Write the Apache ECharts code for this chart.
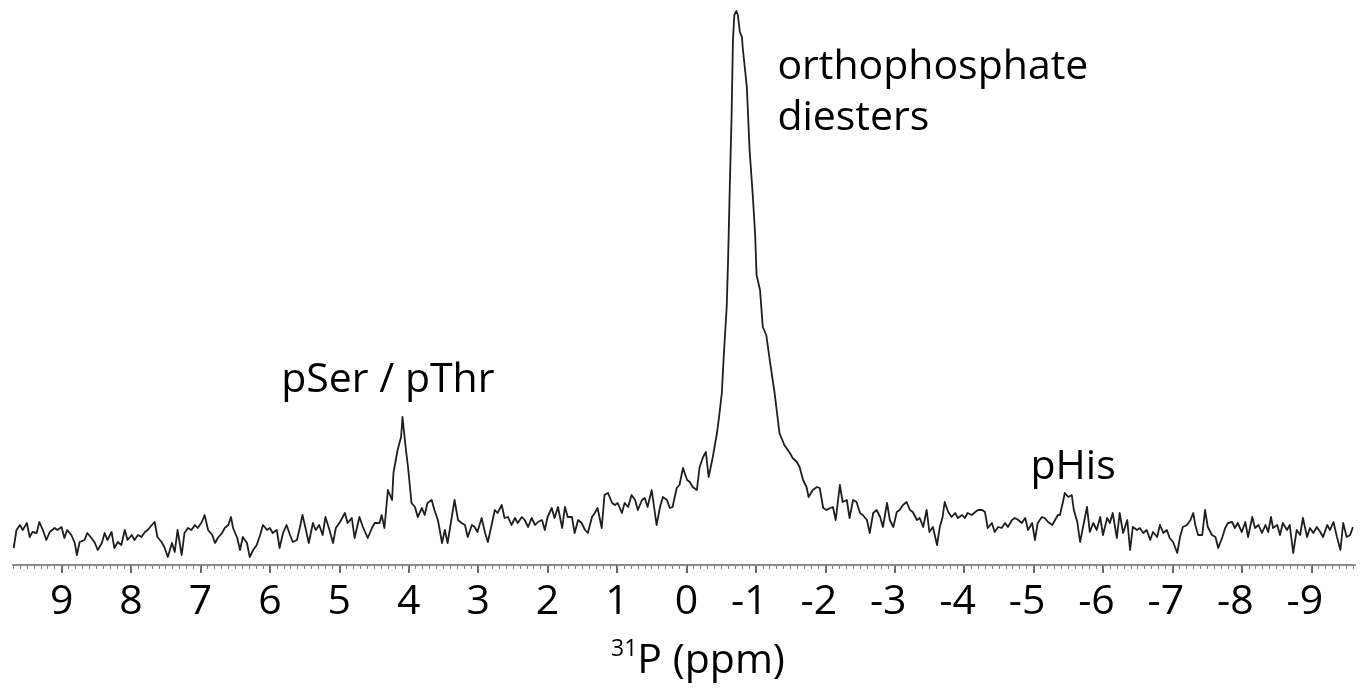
<!DOCTYPE html>
<html><head><meta charset="utf-8">
<script src="https://cdn.jsdelivr.net/npm/echarts@6/dist/echarts.min.js"></script>
<style>html,body{margin:0;padding:0;background:#fff}#c{width:1364px;height:688px}</style>
</head><body><div id="c"></div>
<script>
// chemical shift (ppm) and signal intensity (arbitrary units)
const ppm = [
 9.69,9.65,9.60,9.56,9.50,9.46,9.42,9.36,9.32,9.27,9.22,9.17,9.10,9.06,9.00,8.96,8.92,8.86,8.81,8.78,
 8.74,8.67,8.63,8.57,8.52,8.48,8.42,8.38,8.34,8.28,8.24,8.19,8.14,8.09,8.05,7.99,7.95,7.90,7.85,7.80,
 7.76,7.70,7.66,7.62,7.56,7.52,7.47,7.41,7.37,7.33,7.27,7.23,7.18,7.13,7.08,7.04,6.98,6.94,6.89,6.83,
 6.79,6.75,6.69,6.65,6.60,6.56,6.53,6.47,6.43,6.39,6.33,6.29,6.24,6.19,6.14,6.10,6.04,6.00,5.96,5.90,
 5.86,5.81,5.76,5.71,5.67,5.61,5.57,5.53,5.49,5.44,5.38,5.34,5.29,5.24,5.20,5.15,5.09,5.05,4.99,
 4.92,4.88,4.82,4.78,4.71,4.66,4.59,4.53,4.49,4.42,4.39,4.35,4.30,4.24,4.22,4.16,4.11,4.09,4.04,4.01,
 3.96,3.91,3.87,3.81,3.77,3.73,3.67,3.63,3.58,3.52,3.48,3.44,3.38,3.34,3.29,3.24,3.19,3.15,3.09,3.05,
 3.01,2.95,2.90,2.86,2.80,2.76,2.72,2.66,2.62,2.57,2.52,2.47,2.43,2.37,2.33,2.28,2.23,2.18,2.14,2.08,
 2.04,2.00,1.94,1.90,1.85,1.79,1.75,1.71,1.65,1.61,1.56,1.51,1.46,1.42,1.36,1.32,1.28,1.22,1.18,1.13,
 1.07,1.03,0.99,0.93,0.89,0.84,0.79,0.74,0.70,0.64,0.60,0.56,0.50,0.43,0.38,0.34,0.28,0.24,0.20,0.14,
 0.10,0.05,
 -0.01,-0.05,-0.09,-0.15,-0.19,-0.24,-0.28,-0.32,-0.38,-0.44,-0.47,-0.51,-0.54,-0.58,-0.60,-0.62,-0.65,-0.67,-0.69,-0.72,
 -0.74,-0.77,-0.80,-0.81,-0.87,-0.91,-0.96,-0.99,-1.01,-1.06,-1.10,-1.15,-1.20,-1.27,-1.34,
 -1.41,-1.49,-1.53,-1.59,-1.63,-1.68,-1.73,-1.76,-1.82,-1.88,-1.92,-1.97,-2.02,-2.07,-2.11,-2.15,-2.21,-2.25,-2.31,-2.35,
 -2.40,-2.45,-2.50,-2.54,-2.60,-2.64,-2.69,-2.74,-2.79,-2.83,-2.89,-2.93,-2.98,-3.03,-3.07,-3.12,-3.17,-3.22,-3.26,-3.32,
 -3.36,-3.41,-3.46,-3.50,-3.55,-3.61,-3.65,-3.69,-3.72,-3.77,-3.82,-3.87,-3.91,-3.97,-4.01,-4.05,-4.11,-4.16,-4.20,-4.26,
 -4.30,-4.34,-4.40,-4.44,-4.49,-4.54,-4.59,-4.63,-4.69,-4.73,-4.78,-4.83,-4.88,-4.92,-4.98,-5.02,-5.06,-5.12,-5.16,-5.21,
 -5.27,-5.31,-5.35,
 -5.38,-5.42,-5.45,-5.50,-5.55,-5.58,-5.63,-5.67,-5.71,-5.77,-5.81,-5.86,-5.91,-5.96,-6.00,-6.06,-6.10,-6.14,-6.20,-6.24,
 -6.29,-6.35,-6.39,-6.43,-6.49,-6.53,-6.58,-6.63,-6.68,-6.72,-6.78,-6.82,-6.87,-6.92,-6.96,-7.01,-7.07,-7.11,-7.15,-7.21,
 -7.26,-7.30,-7.33,-7.37,-7.43,-7.47,-7.51,-7.57,-7.62,-7.66,-7.72,-7.76,-7.80,-7.86,-7.90,-7.94,-8.00,-8.05,-8.09,-8.15,
 -8.19,-8.24,-8.29,-8.34,-8.38,-8.42,-8.45,-8.51,-8.55,-8.59,-8.65,-8.69,-8.74,-8.79,-8.84,-8.88,-8.94,-8.98,-9.03,-9.08,
 -9.13,-9.17,-9.23,-9.27,-9.32,-9.37,-9.42,-9.46,-9.51,-9.56,-9.60
];
const intensity = [
 17,35,40,35,42,28,33,32,43,35,25,33,37,35,38,27,35,30,22,10,
 23,25,32,27,22,15,22,32,25,33,17,23,20,35,25,30,25,30,28,33,
 35,40,43,28,23,18,8,22,13,35,10,32,37,35,40,37,43,50,35,30,
 22,27,32,37,40,48,37,27,15,28,22,8,15,20,30,40,35,37,32,35,
 17,32,40,30,23,25,37,50,38,22,42,35,40,30,48,37,22,37,43,
 52,42,47,27,48,38,27,37,42,42,50,37,75,65,92,115,128,148,115,98,
 62,58,48,57,50,62,65,55,45,22,35,22,48,65,45,42,40,28,40,38,
 33,47,32,23,42,55,52,60,47,48,40,47,42,48,45,38,47,40,43,45,
 35,48,57,47,58,37,58,48,48,32,45,42,35,32,48,52,57,37,70,72,
 62,60,62,52,62,58,70,65,55,65,67,58,75,40,58,68,65,57,58,77,
 80,97,
 85,83,78,75,98,108,113,88,108,132,148,172,212,258,305,365,448,525,550,554,
 550,533,528,518,478,415,365,330,290,275,238,230,205,172,132,
 120,112,107,103,98,85,78,68,75,78,77,57,55,57,58,45,80,63,65,47,
 65,63,52,50,45,32,52,55,48,38,62,45,38,53,55,60,63,55,53,45,
 47,38,55,33,38,20,38,48,63,53,48,52,47,50,47,52,50,53,55,55,
 53,37,42,33,38,37,42,38,45,47,45,42,47,35,42,25,42,48,47,43,
 40,45,50,
 50,62,72,68,70,55,43,23,37,58,33,42,35,48,30,47,42,52,27,52,
 32,45,15,38,35,37,32,35,25,33,28,40,32,35,27,23,12,28,38,40,
 45,52,40,30,30,55,38,30,28,17,28,37,42,43,37,42,33,43,28,48,
 37,40,32,40,33,48,37,40,30,42,35,40,12,35,30,47,28,37,32,38,
 33,28,40,35,43,28,15,42,28,30,38
];
const tickValues = [9,8,7,6,5,4,3,2,1,0,-1,-2,-3,-4,-5,-6,-7,-8,-9];
const tickLabels = ['9','8','7','6','5','4','3','2','1','0','-1','-2','-3','-4','-5','-6','-7','-8','-9'];
const axisTitleSup = '31';
const axisTitleMain = 'P (ppm)';
// annotations: text, anchor ppm, anchor intensity, alignment
const annotText  = ['orthophosphate', 'diesters', 'pSer / pThr', 'pHis'];
const annotPpm   = [-1.31, -1.31, 4.30, -5.57];
const annotLevel = [498, 447, 185, 98];
const annotAlign = ['left', 'left', 'center', 'center'];

const FONT = '"Open Sans", "Noto Sans", sans-serif';
const minorTicks = [];
for (let k = -96; k <= 97; k++) minorTicks.push(k / 10);

const chart = echarts.init(document.getElementById('c'), null, {renderer: 'canvas'});
const data = ppm.map((p, i) => [p, intensity[i]]);

chart.setOption({
  animation: false,
  backgroundColor: '#fff',
  grid: {left: 13, right: 9, top: 10, bottom: 123, containLabel: false},
  xAxis: [{
    type: 'value', inverse: true, min: -9.63, max: 9.7, position: 'bottom',
    axisLine: {show: true, onZero: false, lineStyle: {color: '#8c8c8c', width: 2}},
    axisTick: {show: true, customValues: tickValues, length: 8, lineStyle: {color: '#666', width: 2}},
    axisLabel: {
      show: true, customValues: tickValues, margin: 17, color: '#000',
      fontFamily: FONT, fontSize: 41,
      formatter: v => {
        const i = tickValues.indexOf(Math.round(v));
        const s = i >= 0 ? tickLabels[i] : String(v);
        return s.charAt(0) === '-' ? '{neg|' + s + '}' : '{pos|' + s + '}';
      },
      rich: {
        pos: {fontFamily: FONT, fontSize: 41, color: '#000'},
        neg: {fontFamily: FONT, fontSize: 41, color: '#000', padding: [0, 13, 0, 0]}
      }
    },
    splitLine: {show: false},
    name: '{sup|' + axisTitleSup + '}{n|' + axisTitleMain + '}',
    nameLocation: 'middle', nameGap: 73,
    nameTextStyle: {
      color: '#000', fontFamily: FONT, fontSize: 41, padding: [0, 0, 0, 28],
      rich: {
        sup: {fontFamily: FONT, fontSize: 23, color: '#000', verticalAlign: 'top', lineHeight: 46},
        n: {fontFamily: FONT, fontSize: 41, color: '#000', lineHeight: 46}
      }
    }
  }, {
    type: 'value', inverse: true, min: -9.63, max: 9.7, position: 'bottom',
    axisLine: {show: false, onZero: false},
    axisTick: {show: true, customValues: minorTicks, length: 4, lineStyle: {color: '#888', width: 1}},
    axisLabel: {show: false},
    splitLine: {show: false}
  }],
  yAxis: {type: 'value', min: 0, max: 555, show: false},
  series: [{
    type: 'line', xAxisIndex: 0, yAxisIndex: 0, data: data,
    symbol: 'none', showSymbol: false, silent: true, clip: false,
    lineStyle: {color: '#1e1e1e', width: 1.8, join: 'round'}
  }]
});

const graphics = annotText.map((t, i) => {
  const pt = chart.convertToPixel({xAxisIndex: 0, yAxisIndex: 0}, [annotPpm[i], annotLevel[i]]);
  return {
    type: 'text', x: pt[0], y: pt[1], silent: true,
    style: {text: t, fill: '#000', font: '41px ' + FONT, textAlign: annotAlign[i], textVerticalAlign: 'middle'}
  };
});
chart.setOption({graphic: graphics});
</script>
</body></html>
